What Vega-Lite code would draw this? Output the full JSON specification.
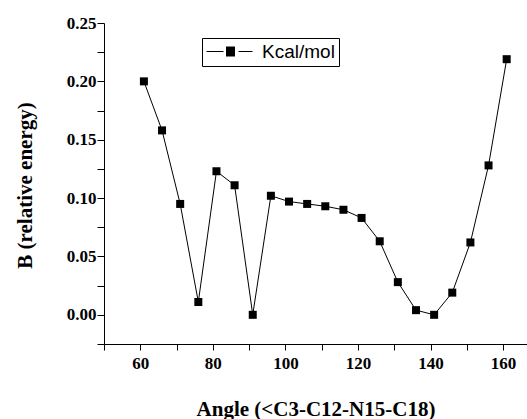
{
  "$schema": "https://vega.github.io/schema/vega-lite/v6.json",
  "width": 423,
  "height": 321,
  "autosize": "none",
  "padding": {"left": 104, "top": 23, "right": 0, "bottom": 75},
  "background": "white",
  "config": {
    "view": {"stroke": null},
    "axis": {
      "grid": false,
      "domainColor": "black",
      "domainWidth": 1,
      "tickColor": "black",
      "tickWidth": 1,
      "labelColor": "black",
      "labelFont": "Liberation Serif",
      "labelFontWeight": "bold",
      "labelFontSize": 17,
      "titleColor": "black",
      "titleFont": "Liberation Serif",
      "titleFontWeight": "bold",
      "titleFontSize": 21,
      "labelOverlap": false,
      "labelFlush": false
    }
  },
  "data": {
    "values": [
      {"angle": 61, "energy": 0.200},
      {"angle": 66, "energy": 0.158},
      {"angle": 71, "energy": 0.095},
      {"angle": 76, "energy": 0.011},
      {"angle": 81, "energy": 0.123},
      {"angle": 86, "energy": 0.111},
      {"angle": 91, "energy": 0.000},
      {"angle": 96, "energy": 0.102},
      {"angle": 101, "energy": 0.097},
      {"angle": 106, "energy": 0.095},
      {"angle": 111, "energy": 0.093},
      {"angle": 116, "energy": 0.090},
      {"angle": 121, "energy": 0.083},
      {"angle": 126, "energy": 0.063},
      {"angle": 131, "energy": 0.028},
      {"angle": 136, "energy": 0.004},
      {"angle": 141, "energy": 0.000},
      {"angle": 146, "energy": 0.019},
      {"angle": 151, "energy": 0.062},
      {"angle": 156, "energy": 0.128},
      {"angle": 161, "energy": 0.219}
    ]
  },
  "encoding": {
    "x": {
      "field": "angle",
      "type": "quantitative",
      "scale": {"domain": [50, 166.6], "nice": false, "zero": false},
      "axis": {
        "title": "Angle (<C3-C12-N15-C18)",
        "values": [50, 60, 70, 80, 90, 100, 110, 120, 130, 140, 150, 160],
        "labelExpr": "datum.value % 20 == 0 ? datum.value : ''",
        "tickSize": 6,
        "labelPadding": 5,
        "titleBaseline": "alphabetic",
        "titleY": 71,
        "encode": {
          "ticks": {"y2": {"condition": {"test": "datum.value % 20 == 0", "value": 6}, "value": 3.5}}
        }
      }
    },
    "y": {
      "field": "energy",
      "type": "quantitative",
      "scale": {"domain": [-0.025, 0.25], "nice": false, "zero": false},
      "axis": {
        "title": "B (relative energy)",
        "values": [-0.025, 0, 0.025, 0.05, 0.075, 0.1, 0.125, 0.15, 0.175, 0.2, 0.225, 0.25],
        "labelExpr": "round(datum.value * 1000) % 50 == 0 && datum.value > -0.01 ? format(datum.value, '.2f') : ''",
        "tickSize": 7,
        "labelPadding": 1,
        "titleBaseline": "alphabetic",
        "titleAngle": 270,
        "titleX": -73,
        "titleY": 162,
        "encode": {
          "ticks": {"x2": {"condition": {"test": "round(datum.value * 1000) % 50 == 0", "value": -7}, "value": -4}}
        }
      }
    }
  },
  "layer": [
    {
      "mark": {"type": "line", "strokeWidth": 1},
      "encoding": {
        "color": {
          "datum": "Kcal/mol",
          "scale": {"range": ["black"]},
          "legend": {
            "title": null,
            "orient": "none",
            "legendX": 98,
            "legendY": 15,
            "padding": 4,
            "strokeColor": "black",
            "fillColor": "white",
            "symbolType": "M-1,0H0.889M2.556,0H4.111M1.167,-0.5H2.167M1.167,-0.444H2.167M1.167,-0.389H2.167M1.167,-0.333H2.167M1.167,-0.278H2.167M1.167,-0.222H2.167M1.167,-0.167H2.167M1.167,-0.111H2.167M1.167,-0.056H2.167M1.167,0H2.167M1.167,0.056H2.167M1.167,0.111H2.167M1.167,0.167H2.167M1.167,0.222H2.167M1.167,0.278H2.167M1.167,0.333H2.167M1.167,0.389H2.167M1.167,0.444H2.167M1.167,0.5H2.167",
            "symbolSize": 324,
            "symbolStrokeColor": "black",
            "symbolStrokeWidth": 1,
            "labelOffset": 37,
            "labelFont": "Liberation Sans",
            "labelFontSize": 19,
            "labelColor": "black"
          }
        }
      }
    },
    {
      "mark": {"type": "point", "shape": "square", "filled": true, "size": 64, "color": "black", "opacity": 1}
    }
  ]
}
